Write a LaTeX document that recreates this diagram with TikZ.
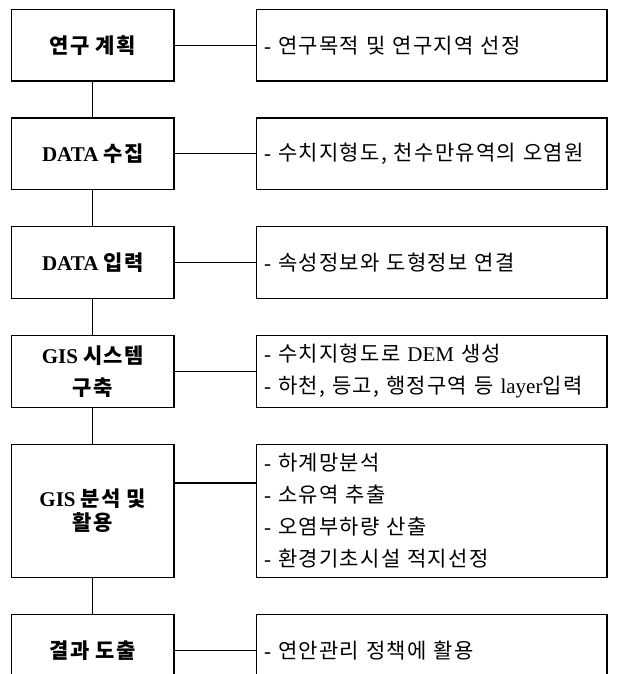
\documentclass[tikz,border=0pt]{standalone}
\usepackage{fontspec}
\setmainfont{Liberation Serif}
\newfontfamily\krfont[LetterSpace=6]{Noto Sans CJK KR}
\newcommand{\kr}[1]{{\krfont #1}}
\usetikzlibrary{positioning}

\begin{document}
\begin{tikzpicture}[
    x=1pt, y=-1pt,
    line width=1.2pt,
    stage/.style={
    draw,
    inner sep=0pt,
    align=center,
    minimum width=162.3pt,
    minimum height=71.7pt,
    font=\bfseries\fontsize{21}{32}\selectfont},
    detail/.style={
    draw,
    inner xsep=8pt,
    inner ysep=0pt,
    align=left,
    text width=334.7pt,
    minimum height=71.7pt,
    font=\fontsize{21}{32}\selectfont}]
    \useasboundingbox (0,0) rectangle (616,674);
    \clip (0,0) rectangle (616,674);
    \node[stage] (plan) at (92.85,45.15) {\kr{연구 계획}};
    \node[detail, right=81pt of plan] (plan-d) {- \kr{연구목적 및 연구지역 선정}};
    \node[stage, below=35.8pt of plan] (collect) {DATA \kr{수집}};
    \node[detail, right=81pt of collect] (collect-d) {- \kr{수치지형도, 천수만유역의 오염원}};
    \node[stage, below=35.8pt of collect] (input) {DATA \kr{입력}};
    \node[detail, right=81pt of input] (input-d) {- \kr{속성정보와 도형정보 연결}};
    \node[stage, below=35.8pt of input] (system) {GIS \kr{시스템}\\ \kr{구축}};
    \node[detail, right=81pt of system] (system-d) {- \kr{수치지형도로} DEM \kr{생성}\\ - \kr{하천, 등고, 행정구역 등} layer\kr{입력}};
    \node[stage, minimum height=133.7pt, below=35.8pt of system] (analyse) {GIS \kr{분석 및}\\[-8pt] \kr{활용}};
    \node[detail, minimum height=133.7pt, right=81pt of analyse] (analyse-d) {- \kr{하계망분석}\\ - \kr{소유역 추출}\\ - \kr{오염부하량 산출}\\ - \kr{환경기초시설 적지선정}\\[6pt]};
    \node[stage, below=35.8pt of analyse] (result) {\kr{결과 도출}};
    \node[detail, right=81pt of result] (result-d) {- \kr{연안관리 정책에 활용}};
    \draw (plan) -- (plan-d);
    \draw (collect) -- (collect-d);
    \draw (input) -- (input-d);
    \draw (system) -- (system-d);
    \draw ([yshift=28pt]analyse.east) -- ([yshift=28pt]analyse-d.west);
    \draw (result) -- (result-d);
    \draw (plan) -- (collect);
    \draw (collect) -- (input);
    \draw (input) -- (system);
    \draw (system) -- (analyse);
    \draw (analyse) -- (result);
\end{tikzpicture}
\end{document}
